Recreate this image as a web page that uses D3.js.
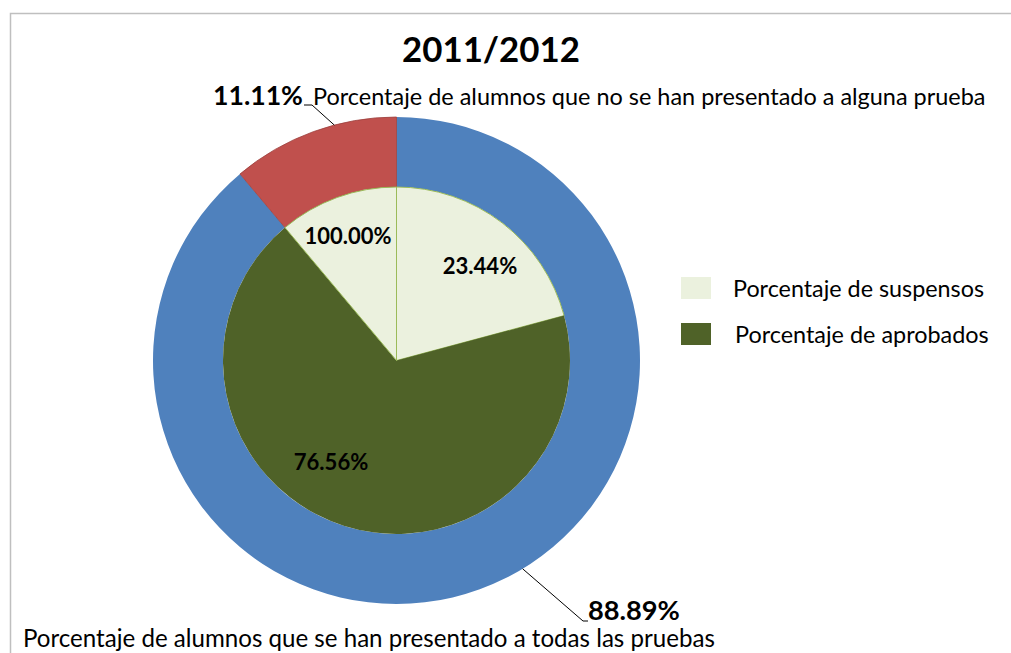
<!DOCTYPE html>
<html><head><meta charset="utf-8">
<script src="https://cdn.jsdelivr.net/npm/d3@7"></script>
<style>body{margin:0;background:#fff}svg{display:block}text{font-family:Lato,"Open Sans",sans-serif;fill:#000}</style>
</head><body>
<script>
const title = "2011/2012";
const outerLabels = ["Porcentaje de alumnos que se han presentado a todas las pruebas", "Porcentaje de alumnos que no se han presentado a alguna prueba"];
const outerValues = [88.89, 11.11];
const outerColors = ["#4F81BD", "#C0504D"];
const innerParent = [0, 0, 1];
const innerCats = ["Porcentaje de suspensos", "Porcentaje de aprobados", "Porcentaje de suspensos"];
const innerValues = [23.44, 76.56, 100.00];
const legendCats = ["Porcentaje de suspensos", "Porcentaje de aprobados"];
const legendColors = ["#EBF1DE", "#4F6228"];

const W = 1011, H = 653;
const svg = d3.select("body").append("svg").attr("width", W).attr("height", H);

// frame
svg.append("path").attr("d", "M10.5,653 V13.5 H1011").attr("fill", "none").attr("stroke", "#BFBFBF").attr("stroke-width", 1.5);

function fit(sel, width, base) {
  sel.attr("font-size", base);
  const w = sel.node().getComputedTextLength();
  sel.attr("font-size", base * width / w);
  return sel;
}

const cx = 396.5, cy = 360.5, R = 243.5, r = 173.5;
const g = svg.append("g").attr("transform", `translate(${cx},${cy})`);

const pie = d3.pie().sort(null).value(d => d);
const outerArcs = pie(outerValues);
const arcOuter = d3.arc().innerRadius(r).outerRadius(R);
g.selectAll("path.outer").data(outerArcs).join("path").attr("class", "outer")
  .attr("d", arcOuter).attr("fill", (d, i) => outerColors[i])
  .attr("stroke", (d, i) => i === 1 ? "#9C3F3C" : "none").attr("stroke-width", 0.8);

// inner slices subdivide parents
const innerArcs = [];
outerArcs.forEach((oa, pi) => {
  const s = d3.scaleLinear().domain([0, 100]).range([oa.startAngle, oa.endAngle]);
  let acc = 0;
  innerValues.forEach((v, i) => {
    if (innerParent[i] !== pi) return;
    innerArcs.push({ startAngle: s(acc), endAngle: s(acc + v), value: v, cat: innerCats[i] });
    acc += v;
  });
});
const arcInner = d3.arc().innerRadius(0).outerRadius(r);
g.selectAll("path.inner").data(innerArcs).join("path").attr("class", "inner")
  .attr("d", arcInner)
  .attr("fill", d => legendColors[legendCats.indexOf(d.cat)])
  .attr("stroke", d => d.cat === legendCats[0] ? "#9BBB59" : "none").attr("stroke-width", 1);

// inner labels
const labelPos = [[83.5, -94], [-65.5, 102], [-48.5, -124]];
innerArcs.forEach((d, i) => {
  const t = g.append("text").attr("x", labelPos[i][0]).attr("y", labelPos[i][1])
    .attr("text-anchor", "middle").attr("font-weight", "bold").attr("dy", "0.35em")
    .text(d3.format(".2f")(d.value) + "%");
  fit(t, 87 * (t.text().length) / 7, 18);
});

// title
fit(svg.append("text").attr("x", 491).attr("y", 62).attr("text-anchor", "middle")
  .attr("font-weight", "bold").text(title), 178, 32);

// outer labels
const pctFmt = v => d3.format(".2f")(v) + "%";
fit(svg.append("text").attr("x", 213).attr("y", 105).attr("font-weight", "bold").text(pctFmt(outerValues[1])), 90, 26);
fit(svg.append("text").attr("x", 313).attr("y", 105).text(outerLabels[1]), 673, 22);
fit(svg.append("text").attr("x", 588).attr("y", 620).attr("font-weight", "bold").text(pctFmt(outerValues[0])), 92, 26);
fit(svg.append("text").attr("x", 23).attr("y", 647).text(outerLabels[0]), 692, 22);

// leader lines
const leaderA = outerArcs[1].startAngle + (outerArcs[1].endAngle - outerArcs[1].startAngle) * 0.63;
const pA = [cx + R * Math.sin(leaderA), cy - R * Math.cos(leaderA)];
svg.append("polyline").attr("points", `${pA[0]},${pA[1]} 312,105 304,105`).attr("fill", "none").attr("stroke", "#000").attr("stroke-width", 1);
const leaderB = outerArcs[0].startAngle + (outerArcs[0].endAngle - outerArcs[0].startAngle) * 0.465;
const pB = [cx + R * Math.sin(leaderB), cy - R * Math.cos(leaderB)];
svg.append("polyline").attr("points", `${pB[0]},${pB[1]} 583,621 588,621`).attr("fill", "none").attr("stroke", "#000").attr("stroke-width", 1);

// legend
const leg = svg.append("g");
legendCats.forEach((c, i) => {
  const y = 277 + i * 46;
  leg.append("rect").attr("x", 681).attr("y", y).attr("width", 30).attr("height", 22).attr("fill", legendColors[i]);
  fit(leg.append("text").attr("x", 733 + i * 2).attr("y", y + 20).text(c), 251 + i * 3, 22);
});
</script>
</body></html>
